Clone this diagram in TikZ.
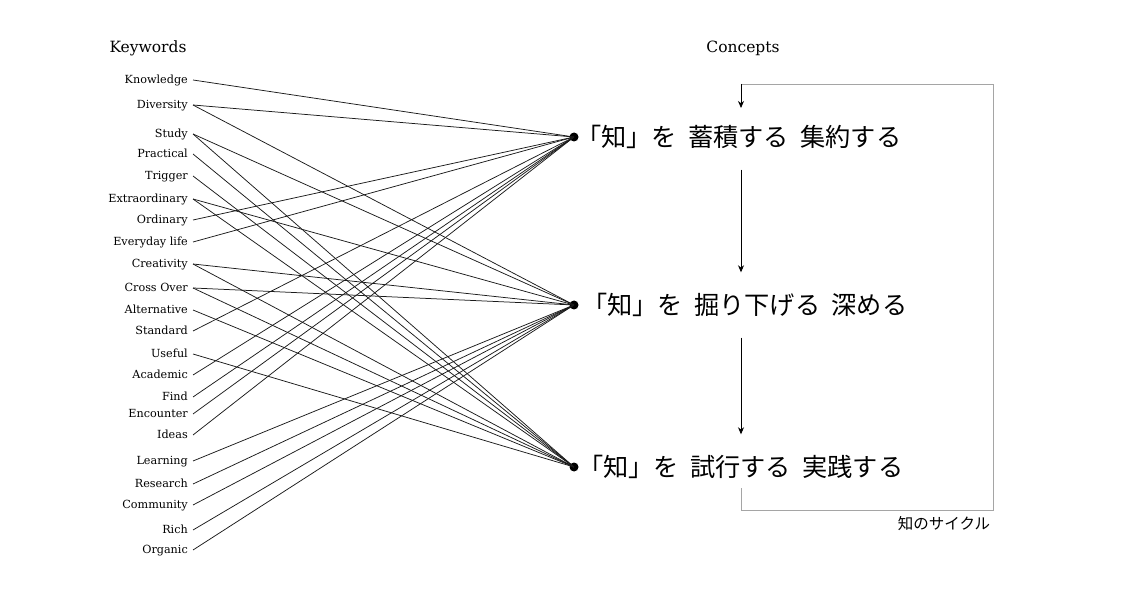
\documentclass[tikz,border=0pt]{standalone}
\usepackage{fontspec}
\setmainfont{DejaVu Serif}
\newfontfamily\jpfont{Noto Sans CJK JP}
\usetikzlibrary{arrows.meta}
\definecolor{linkgray}{HTML}{1A1A1A}
\definecolor{cyclegray}{HTML}{A5A5A5}

\tikzset{
  keyword/.style={anchor=east, inner xsep=5pt, inner ysep=0pt, text height=7.5pt, text depth=0.5pt,
    font=\fontsize{11.2}{12}\selectfont},
  heading/.style={inner sep=0pt, font=\fontsize{15.5}{17}\selectfont},
  hub/.style={circle, fill=black, minimum size=9pt, inner sep=0pt},
  concept/.style={anchor=west, inner sep=0pt, text height=22pt, text depth=3pt,
    font=\jpfont\fontsize{25.2}{29}\selectfont},
  link/.style={line width=0.75pt, draw=linkgray},
  stagearrow/.style={line width=0.8pt, shorten <=20pt, shorten >=20pt, -{Stealth[length=7pt,width=6pt]}},
  cycleline/.style={line width=0.8pt, draw=cyclegray},
}

\begin{document}
\begin{tikzpicture}[x=1pt,y=-1pt]
\useasboundingbox (0,0) rectangle (1126,601);

% Headings
\node[heading] (kwhead) at (148,48) {Keywords};
\node[heading] (cohead) at (743,48) {Concepts};

% Keywords
\foreach \k/\y/\t in {know/80/Knowledge, div/105/Diversity, stu/134/Study, pra/154/Practical,
    tri/176/Trigger, ext/199/Extraordinary, ord/220/Ordinary, eve/242/Everyday life,
    cre/264/Creativity, cro/288/Cross Over, alt/310/Alternative, sta/331/Standard,
    use/354/Useful, aca/375/Academic, fin/397/Find, enc/414/Encounter, ide/435/Ideas,
    lea/461/Learning, res/484/Research, com/505/Community, ric/530/Rich, org/550/Organic}
  \node[keyword] (\k) at (193,\y) {\t};

% Concept hubs
\node[hub] (c1) at (574,137) {};
\node[hub] (c2) at (574,305) {};
\node[hub] (c3) at (574,467) {};

% Links from keywords to concepts
\foreach \k/\c in {know/c1, div/c1, div/c2, stu/c2, stu/c3, pra/c3, tri/c3, ext/c2, ext/c3,
    ord/c1, eve/c1, cre/c2, cre/c3, cro/c2, cro/c3, alt/c3, sta/c1, use/c3, aca/c1,
    fin/c1, enc/c1, ide/c1, lea/c2, res/c2, com/c2, ric/c2, org/c2}
  \draw[link] (\k.east) -- (\c.center);

% Concepts
\node[concept] (t1) at (576,137) {「知」を\hspace{0.45em}蓄積する\hspace{0.45em}集約する};
\node[concept] (t2) at (582,305) {「知」を\hspace{0.45em}掘り下げる\hspace{0.45em}深める};
\node[concept] (t3) at (578,467) {「知」を\hspace{0.45em}試行する\hspace{0.45em}実践する};

% Stage arrows
\coordinate (ax) at (741,0);
\draw[stagearrow] (t1.south -| ax) -- (t2.north -| ax);
\draw[stagearrow] (t2.south -| ax) -- (t3.north -| ax);

% Cycle back to the top
\coordinate (cyc-s) at (741,488);
\coordinate (cyc-br) at (993,510);
\coordinate (cyc-tl) at (741,84);
\coordinate (cyc-e) at (741,108);
\draw[cycleline] (cyc-s) |- (cyc-br) |- (cyc-tl);
\draw[line width=0.8pt, -{Stealth[length=7pt,width=6pt]}] (cyc-tl) -- (cyc-e);
\node[inner sep=0pt, font=\jpfont\fontsize{15.5}{17}\selectfont] (cyclabel) at (944,524) {知のサイクル};
\end{tikzpicture}
\end{document}
